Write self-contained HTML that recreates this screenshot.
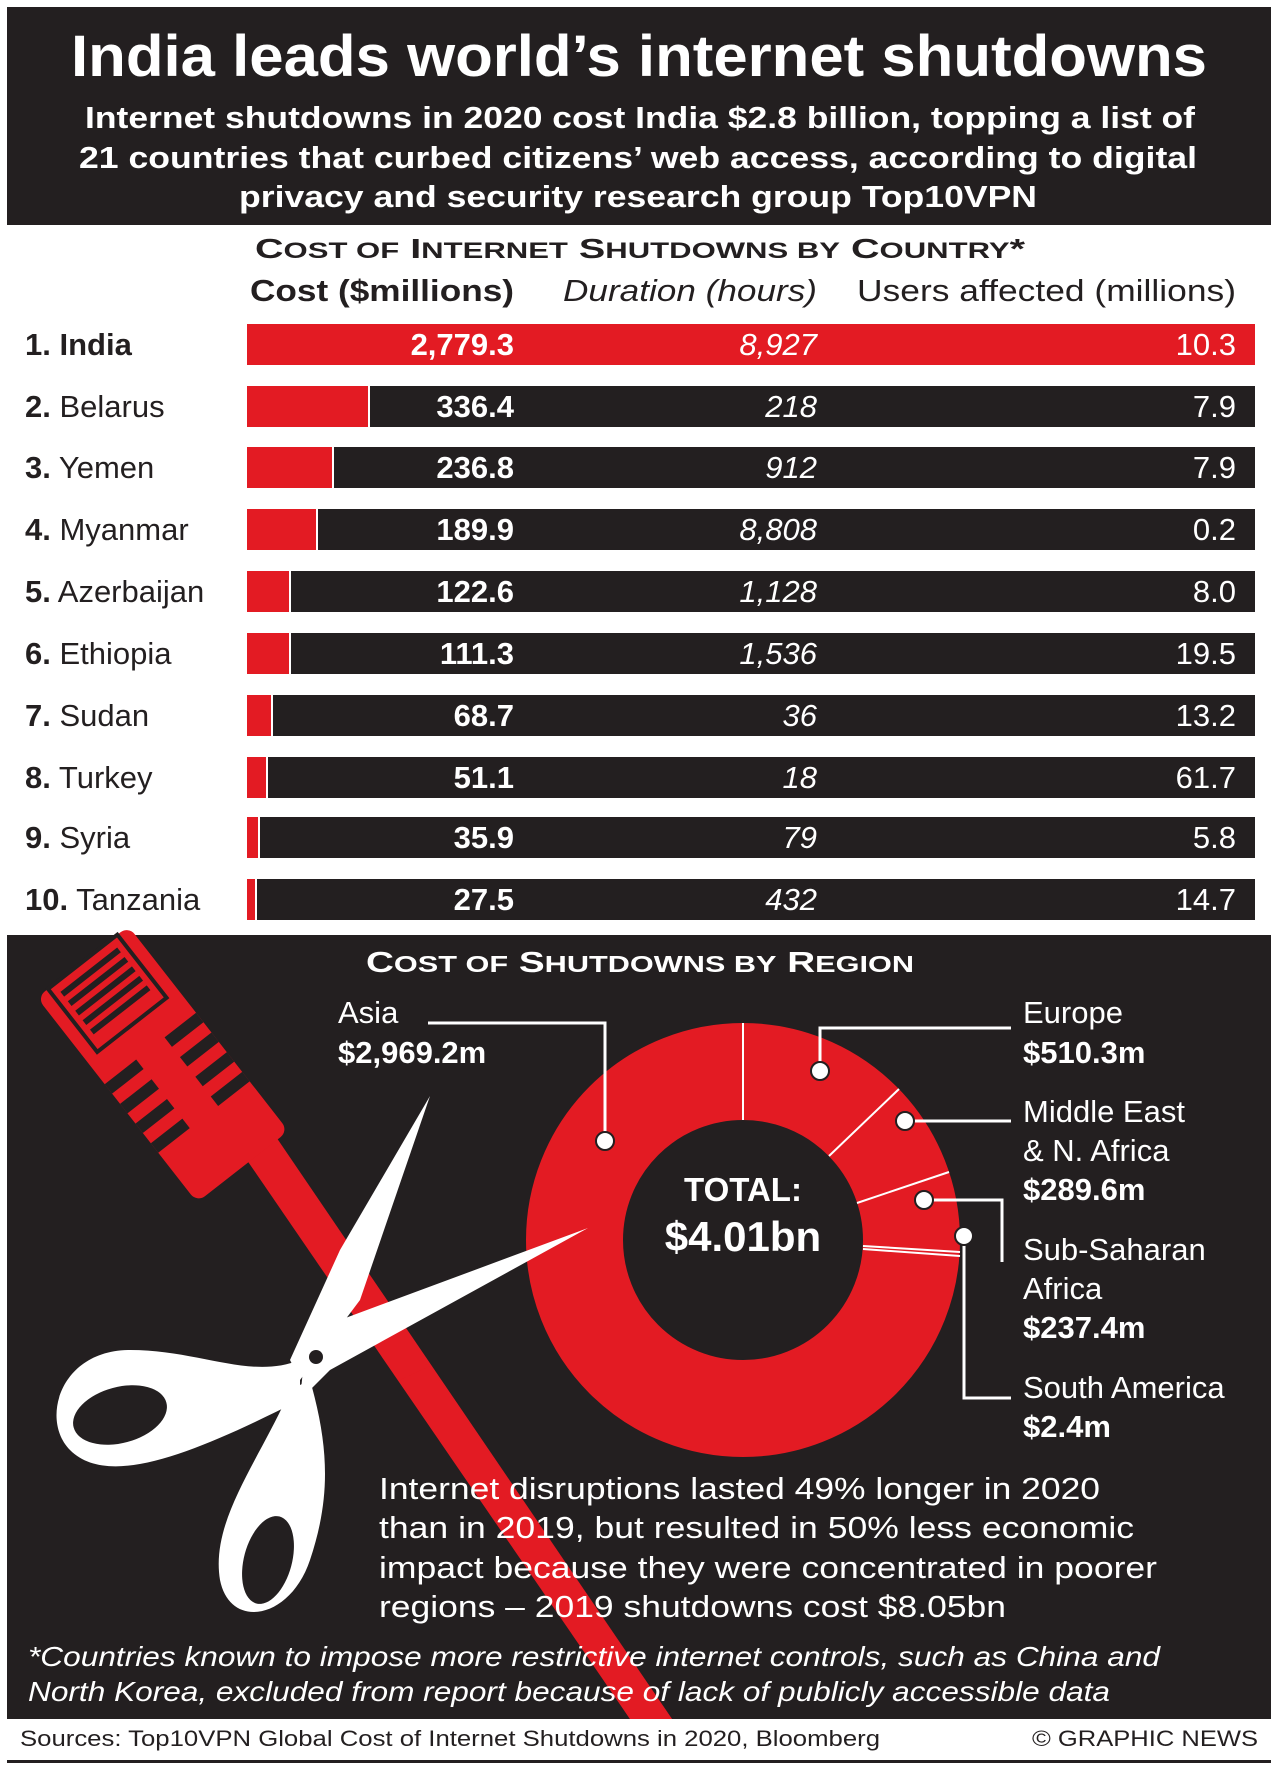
<!DOCTYPE html>
<html><head><meta charset="utf-8"><style>
html,body{margin:0;padding:0;background:#fff}
svg{display:block}
text{font-family:"Liberation Sans",Arial,sans-serif}
</style></head><body>
<svg width="1278" height="1774" viewBox="0 0 1278 1774" xmlns="http://www.w3.org/2000/svg">
<rect width="1278" height="1774" fill="#fff"/>
<rect x="7" y="7" width="1264" height="218" fill="#231f20"/>
<text x="639" y="76" text-anchor="middle" fill="#fff" font-size="58" font-weight="bold" textLength="1136" lengthAdjust="spacingAndGlyphs">India leads world’s internet shutdowns</text>
<g fill="#fff" font-size="31" font-weight="bold" text-anchor="middle">
<text x="640" y="128" textLength="1110" lengthAdjust="spacingAndGlyphs">Internet shutdowns in 2020 cost India $2.8 billion, topping a list of</text>
<text x="638" y="168" textLength="1118" lengthAdjust="spacingAndGlyphs">21 countries that curbed citizens’ web access, according to digital</text>
<text x="638" y="207" textLength="798" lengthAdjust="spacingAndGlyphs">privacy and security research group Top10VPN</text>
</g>
<text x="640" y="258" text-anchor="middle" font-size="28" font-weight="bold" fill="#231f20" textLength="770" lengthAdjust="spacingAndGlyphs">C<tspan font-size="22">OST OF</tspan> I<tspan font-size="22">NTERNET</tspan> S<tspan font-size="22">HUTDOWNS BY</tspan> C<tspan font-size="22">OUNTRY</tspan>*</text>
<g font-size="31" fill="#231f20">
<text x="250" y="301" font-weight="bold" textLength="264" lengthAdjust="spacingAndGlyphs">Cost ($millions)</text>
<text x="563" y="301" font-style="italic" textLength="254" lengthAdjust="spacingAndGlyphs">Duration (hours)</text>
<text x="857" y="301" textLength="379" lengthAdjust="spacingAndGlyphs">Users affected (millions)</text>
</g>
<g font-size="31">
<rect x="247" y="324" width="1008" height="41" fill="#e31b23"/>
<text x="25" y="355" font-weight="bold" fill="#231f20">1. India</text>
<text x="514" y="355" text-anchor="end" font-weight="bold" fill="#fff">2,779.3</text>
<text x="817" y="355" text-anchor="end" font-style="italic" fill="#fff">8,927</text>
<text x="1236" y="355" text-anchor="end" fill="#fff">10.3</text>

<rect x="247" y="386" width="1008" height="41" fill="#231f20"/><rect x="247" y="386" width="121" height="41" fill="#e31b23"/><rect x="368" y="386" width="2" height="41" fill="#fff"/>
<text x="25" y="417" fill="#231f20"><tspan font-weight="bold">2.</tspan> Belarus</text>
<text x="514" y="417" text-anchor="end" font-weight="bold" fill="#fff">336.4</text>
<text x="817" y="417" text-anchor="end" font-style="italic" fill="#fff">218</text>
<text x="1236" y="417" text-anchor="end" fill="#fff">7.9</text>

<rect x="247" y="447" width="1008" height="41" fill="#231f20"/><rect x="247" y="447" width="85" height="41" fill="#e31b23"/><rect x="332" y="447" width="2" height="41" fill="#fff"/>
<text x="25" y="478" fill="#231f20"><tspan font-weight="bold">3.</tspan> Yemen</text>
<text x="514" y="478" text-anchor="end" font-weight="bold" fill="#fff">236.8</text>
<text x="817" y="478" text-anchor="end" font-style="italic" fill="#fff">912</text>
<text x="1236" y="478" text-anchor="end" fill="#fff">7.9</text>

<rect x="247" y="509" width="1008" height="41" fill="#231f20"/><rect x="247" y="509" width="69" height="41" fill="#e31b23"/><rect x="316" y="509" width="2" height="41" fill="#fff"/>
<text x="25" y="540" fill="#231f20"><tspan font-weight="bold">4.</tspan> Myanmar</text>
<text x="514" y="540" text-anchor="end" font-weight="bold" fill="#fff">189.9</text>
<text x="817" y="540" text-anchor="end" font-style="italic" fill="#fff">8,808</text>
<text x="1236" y="540" text-anchor="end" fill="#fff">0.2</text>

<rect x="247" y="571" width="1008" height="41" fill="#231f20"/><rect x="247" y="571" width="42" height="41" fill="#e31b23"/><rect x="289" y="571" width="2" height="41" fill="#fff"/>
<text x="25" y="602" fill="#231f20"><tspan font-weight="bold">5.</tspan> Azerbaijan</text>
<text x="514" y="602" text-anchor="end" font-weight="bold" fill="#fff">122.6</text>
<text x="817" y="602" text-anchor="end" font-style="italic" fill="#fff">1,128</text>
<text x="1236" y="602" text-anchor="end" fill="#fff">8.0</text>

<rect x="247" y="633" width="1008" height="41" fill="#231f20"/><rect x="247" y="633" width="42" height="41" fill="#e31b23"/><rect x="289" y="633" width="2" height="41" fill="#fff"/>
<text x="25" y="664" fill="#231f20"><tspan font-weight="bold">6.</tspan> Ethiopia</text>
<text x="514" y="664" text-anchor="end" font-weight="bold" fill="#fff">111.3</text>
<text x="817" y="664" text-anchor="end" font-style="italic" fill="#fff">1,536</text>
<text x="1236" y="664" text-anchor="end" fill="#fff">19.5</text>

<rect x="247" y="695" width="1008" height="41" fill="#231f20"/><rect x="247" y="695" width="24" height="41" fill="#e31b23"/><rect x="271" y="695" width="2" height="41" fill="#fff"/>
<text x="25" y="726" fill="#231f20"><tspan font-weight="bold">7.</tspan> Sudan</text>
<text x="514" y="726" text-anchor="end" font-weight="bold" fill="#fff">68.7</text>
<text x="817" y="726" text-anchor="end" font-style="italic" fill="#fff">36</text>
<text x="1236" y="726" text-anchor="end" fill="#fff">13.2</text>

<rect x="247" y="757" width="1008" height="41" fill="#231f20"/><rect x="247" y="757" width="19" height="41" fill="#e31b23"/><rect x="266" y="757" width="2" height="41" fill="#fff"/>
<text x="25" y="788" fill="#231f20"><tspan font-weight="bold">8.</tspan> Turkey</text>
<text x="514" y="788" text-anchor="end" font-weight="bold" fill="#fff">51.1</text>
<text x="817" y="788" text-anchor="end" font-style="italic" fill="#fff">18</text>
<text x="1236" y="788" text-anchor="end" fill="#fff">61.7</text>

<rect x="247" y="817" width="1008" height="41" fill="#231f20"/><rect x="247" y="817" width="11" height="41" fill="#e31b23"/><rect x="258" y="817" width="2" height="41" fill="#fff"/>
<text x="25" y="848" fill="#231f20"><tspan font-weight="bold">9.</tspan> Syria</text>
<text x="514" y="848" text-anchor="end" font-weight="bold" fill="#fff">35.9</text>
<text x="817" y="848" text-anchor="end" font-style="italic" fill="#fff">79</text>
<text x="1236" y="848" text-anchor="end" fill="#fff">5.8</text>

<rect x="247" y="879" width="1008" height="41" fill="#231f20"/><rect x="247" y="879" width="8" height="41" fill="#e31b23"/><rect x="255" y="879" width="2" height="41" fill="#fff"/>
<text x="25" y="910" fill="#231f20"><tspan font-weight="bold">10.</tspan> Tanzania</text>
<text x="514" y="910" text-anchor="end" font-weight="bold" fill="#fff">27.5</text>
<text x="817" y="910" text-anchor="end" font-style="italic" fill="#fff">432</text>
<text x="1236" y="910" text-anchor="end" fill="#fff">14.7</text>
</g>

<rect x="7" y="935" width="1264" height="784" fill="#231f20"/>
<text x="640" y="972" text-anchor="middle" font-size="29" font-weight="bold" fill="#fff" textLength="548" lengthAdjust="spacingAndGlyphs">C<tspan font-size="23">OST OF</tspan> S<tspan font-size="23">HUTDOWNS BY</tspan> R<tspan font-size="23">EGION</tspan></text>

<!-- Donut -->
<circle cx="743" cy="1240" r="168.5" fill="none" stroke="#e31b23" stroke-width="97"/>
<g stroke="#fff" stroke-width="2">
<line x1="743" y1="1120" x2="743" y2="1023"/>
<line x1="829" y1="1156" x2="899" y2="1089"/>
<line x1="857" y1="1203" x2="949" y2="1172"/>
<line x1="863" y1="1246" x2="960" y2="1252"/>
<line x1="863" y1="1249" x2="960" y2="1256"/>
</g>

<!-- Cable -->
<polygon points="240,1150 270,1128 672,1719 630,1719" fill="#e31b23"/>
<g transform="translate(175,1080) rotate(52)">
<rect x="-150" y="-58" width="260" height="116" rx="10" fill="#e31b23"/>
<rect x="-150" y="-44" width="80" height="88" fill="#e31b23" stroke="#231f20" stroke-width="4"/>
<g fill="#231f20">
<rect x="-140" y="-36" width="6" height="72"/><rect x="-128" y="-36" width="6" height="72"/><rect x="-116" y="-36" width="6" height="72"/><rect x="-104" y="-36" width="6" height="72"/><rect x="-92" y="-36" width="6" height="72"/>
<rect x="-40" y="-58" width="12" height="40"/><rect x="-15" y="-58" width="12" height="40"/><rect x="10" y="-58" width="12" height="40"/><rect x="35" y="-58" width="12" height="40"/>
<rect x="-40" y="18" width="12" height="40"/><rect x="-15" y="18" width="12" height="40"/><rect x="10" y="18" width="12" height="40"/><rect x="35" y="18" width="12" height="40"/>
</g>
</g>

<!-- Scissors -->
<g fill="#fff">
<polygon points="430,1096 360,1300 300,1380 290,1360 340,1250"/>
<polygon points="588,1228 330,1370 300,1400 305,1350 340,1320"/>
<path d="M300,1360 C250,1380 200,1350 130,1350 C60,1350 40,1420 70,1450 C110,1490 200,1450 300,1400 Z"/>
<path d="M310,1380 C330,1450 330,1500 310,1560 C290,1620 230,1630 220,1580 C210,1520 260,1460 290,1390 Z"/>
</g>
<ellipse cx="120" cy="1415" rx="48" ry="28" transform="rotate(-15 120 1415)" fill="#231f20"/>
<ellipse cx="268" cy="1560" rx="24" ry="45" transform="rotate(15 268 1560)" fill="#231f20"/>
<circle cx="316" cy="1357" r="7" fill="#231f20"/>
<polygon points="400,1380 430,1366 672,1719 630,1719" fill="#e31b23"/>

<g stroke="#fff" stroke-width="3" fill="none">
<polyline points="428,1023 605,1023 605,1141"/>
<polyline points="820,1071 820,1028 1011,1028"/>
<polyline points="905,1121 1011,1121"/>
<polyline points="924,1200 1002,1200 1002,1262"/>
<polyline points="964,1236 964,1398 1011,1398"/>
</g>
<g fill="#fff" stroke="#231f20" stroke-width="2">
<circle cx="605" cy="1141" r="9"/><circle cx="820" cy="1071" r="9"/><circle cx="905" cy="1121" r="9"/><circle cx="924" cy="1200" r="9"/><circle cx="964" cy="1236" r="9"/>
</g>
<text x="743" y="1201" text-anchor="middle" font-size="33" font-weight="bold" fill="#fff">TOTAL:</text>
<text x="743" y="1251" text-anchor="middle" font-size="42" font-weight="bold" fill="#fff">$4.01bn</text>

<g font-size="31" fill="#fff">
<text x="338" y="1023">Asia</text>
<text x="338" y="1063" font-weight="bold">$2,969.2m</text>
<text x="1023" y="1023">Europe</text>
<text x="1023" y="1063" font-weight="bold">$510.3m</text>
<text x="1023" y="1122">Middle East</text>
<text x="1023" y="1161">&amp; N. Africa</text>
<text x="1023" y="1200" font-weight="bold">$289.6m</text>
<text x="1023" y="1260">Sub-Saharan</text>
<text x="1023" y="1299">Africa</text>
<text x="1023" y="1338" font-weight="bold">$237.4m</text>
<text x="1023" y="1398">South America</text>
<text x="1023" y="1437" font-weight="bold">$2.4m</text>
<text x="379" y="1499" textLength="721" lengthAdjust="spacingAndGlyphs">Internet disruptions lasted 49% longer in 2020</text>
<text x="379" y="1538" textLength="755" lengthAdjust="spacingAndGlyphs">than in 2019, but resulted in 50% less economic</text>
<text x="379" y="1578" textLength="778" lengthAdjust="spacingAndGlyphs">impact because they were concentrated in poorer</text>
<text x="379" y="1617" textLength="627" lengthAdjust="spacingAndGlyphs">regions – 2019 shutdowns cost $8.05bn</text>
</g>
<g font-size="28" font-style="italic" fill="#fff">
<text x="28" y="1666" textLength="1132" lengthAdjust="spacingAndGlyphs">*Countries known to impose more restrictive internet controls, such as China and</text>
<text x="28" y="1701" textLength="1082" lengthAdjust="spacingAndGlyphs">North Korea, excluded from report because of lack of publicly accessible data</text>
</g>
<text x="20" y="1746" font-size="22" fill="#231f20" textLength="860" lengthAdjust="spacingAndGlyphs">Sources: Top10VPN Global Cost of Internet Shutdowns in 2020, Bloomberg</text>
<text x="1258" y="1746" text-anchor="end" font-size="22" fill="#231f20" textLength="226" lengthAdjust="spacingAndGlyphs">© GRAPHIC NEWS</text>
<rect x="7" y="1760" width="1264" height="3" fill="#231f20"/>
</svg>
</body></html>
